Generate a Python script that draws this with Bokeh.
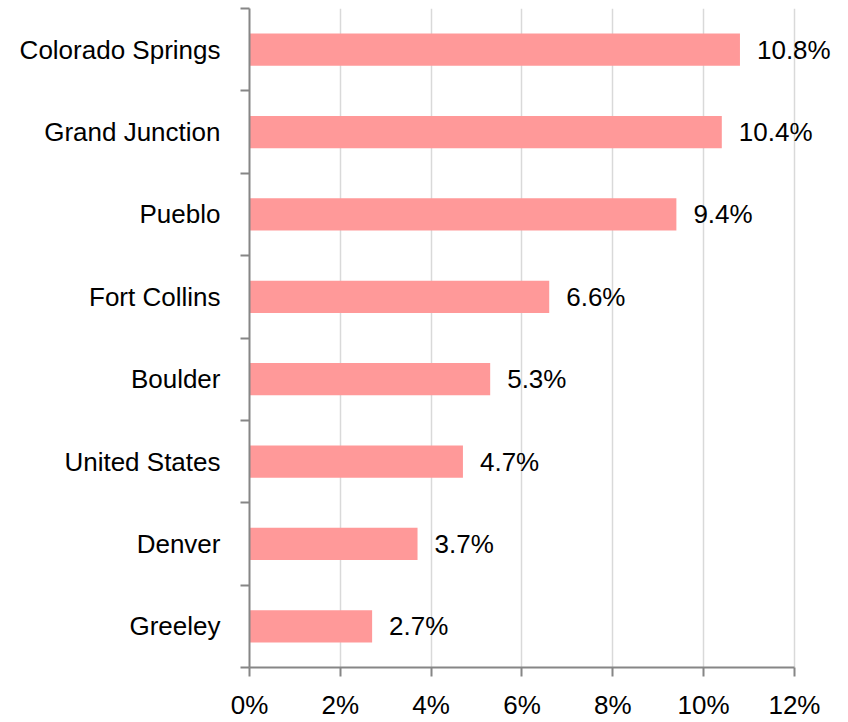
from bokeh.plotting import figure
from bokeh.models import ColumnDataSource, FixedTicker, Range1d
from bokeh.core.properties import value
from bokeh.embed import file_html
from bokeh.resources import INLINE

categories = ["Colorado Springs", "Grand Junction", "Pueblo", "Fort Collins",
              "Boulder", "United States", "Denver", "Greeley"]
values = [10.8, 10.4, 9.4, 6.6, 5.3, 4.7, 3.7, 2.7]
x_ticks = [0, 2, 4, 6, 8, 10, 12]
x_tick_labels = ["0%", "2%", "4%", "6%", "8%", "10%", "12%"]

FONT = "Liberation Sans"
FS = "26px"
n = len(categories)
ypos = [n - i - 0.5 for i in range(n)]
labels = [f"{v:.1f}%" for v in values]

src = ColumnDataSource(dict(y=ypos, v=values, lab=labels, cat=categories))

p = figure(width=848, height=722, output_backend="svg", toolbar_location=None,
           x_range=Range1d(0, 13.19), y_range=Range1d(0, n),
           min_border_left=249, min_border_right=0, min_border_top=8,
           min_border_bottom=55, outline_line_color=None)

p.hbar(y="y", right="v", left=0, height=0.39, source=src,
       fill_color="#FF9999", line_color=None)
p.text(x="v", y="y", text="lab", source=src, x_offset=17,
       text_baseline="middle", text_align="left",
       text_font=value(FONT), text_font_size=FS, text_color="#000000")

# grid
p.ygrid.grid_line_color = None
p.xgrid.ticker = FixedTicker(ticks=x_ticks)
p.xgrid.grid_line_color = "#d9d9d9"
p.xgrid.grid_line_width = 1.5

# x axis
xa = p.xaxis[0]
xa.ticker = FixedTicker(ticks=x_ticks)
xa.bounds = (0, 12)
xa.major_label_overrides = {t: l for t, l in zip(x_ticks, x_tick_labels)}
xa.axis_line_color = "#868686"
xa.axis_line_width = 2
xa.major_tick_line_color = "#868686"
xa.major_tick_line_width = 2
xa.major_tick_out = 9
xa.major_tick_in = 0
xa.minor_tick_line_color = None
xa.major_label_text_font = FONT
xa.major_label_text_font_size = FS
xa.major_label_text_color = "#000000"
xa.major_label_standoff = 13

# y axis: labels at category centres, boundary marks as minor ticks
ya = p.yaxis[0]
ya.ticker = FixedTicker(ticks=ypos, minor_ticks=list(range(n + 1)))
ya.major_label_overrides = {y: c for y, c in zip(ypos, categories)}
ya.axis_line_color = "#868686"
ya.axis_line_width = 2
ya.major_tick_line_color = None
ya.major_tick_out = 9
ya.major_tick_in = 0
ya.minor_tick_line_color = "#868686"
ya.minor_tick_line_width = 2
ya.minor_tick_out = 9
ya.minor_tick_in = 0
ya.major_label_text_font = FONT
ya.major_label_text_font_size = FS
ya.major_label_text_color = "#000000"
ya.major_label_standoff = 20

open("out.html", "w").write(file_html(p, INLINE))
